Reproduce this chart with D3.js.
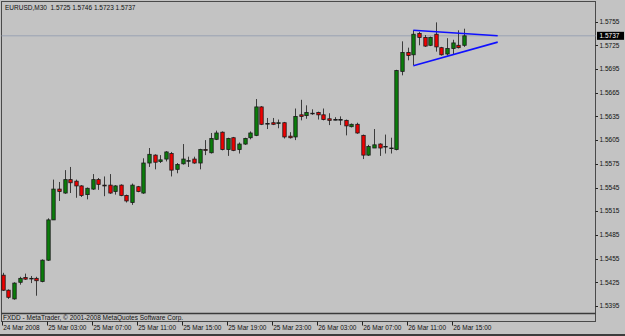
<!DOCTYPE html>
<html>
<head>
<meta charset="utf-8">
<script src="https://cdn.jsdelivr.net/npm/d3@7"></script>
<style>
  body { margin: 0; background: #c3c3c3; }
  svg { display: block; }
  text { font-family: 'Liberation Sans', Arial, sans-serif; white-space: pre; }
</style>
</head>
<body>
<script>
window.document.addEventListener('DOMContentLoaded', init, false);

// EURUSD M30 bars, 24 Mar 2008 23:00 .. 26 Mar 2008 16:00
var open = [
  1.5434, 1.5415, 1.5404, 1.5425, 1.5431, 1.5430, 1.5430, 1.5426, 1.5453, 1.5504,
  1.5543, 1.5538, 1.5555, 1.5553, 1.5547, 1.5536, 1.5543, 1.5555, 1.5548, 1.5548,
  1.5540, 1.5548, 1.5535, 1.5526, 1.5546, 1.5538, 1.5576, 1.5586, 1.5578, 1.5581,
  1.5588, 1.5568, 1.5575, 1.5579, 1.5581, 1.5576, 1.5593, 1.5589, 1.5606, 1.5615,
  1.5593, 1.5608, 1.5593, 1.5600, 1.5608, 1.5611, 1.5647, 1.5626, 1.5627, 1.5626,
  1.5627, 1.5610, 1.5609, 1.5637, 1.5636, 1.5639, 1.5640, 1.5637, 1.5632, 1.5631,
  1.5631, 1.5630, 1.5622, 1.5625, 1.5611, 1.5586, 1.5595, 1.5600, 1.5597, 1.5595,
  1.5593, 1.5692, 1.5716, 1.5713, 1.5740, 1.5735, 1.5725, 1.5739, 1.5722, 1.5714,
  1.5721, 1.5725, 1.5725
];
var close = [
  1.5415, 1.5406, 1.5424, 1.5430, 1.5429, 1.5430, 1.5427, 1.5453, 1.5504, 1.5543,
  1.5540, 1.5555, 1.5551, 1.5547, 1.5535, 1.5544, 1.5555, 1.5549, 1.5547, 1.5538,
  1.5547, 1.5535, 1.5528, 1.5548, 1.5540, 1.5576, 1.5587, 1.5577, 1.5580, 1.5590,
  1.5567, 1.5574, 1.5581, 1.5579, 1.5576, 1.5593, 1.5592, 1.5607, 1.5614, 1.5593,
  1.5607, 1.5592, 1.5600, 1.5607, 1.5614, 1.5647, 1.5625, 1.5626, 1.5625, 1.5627,
  1.5609, 1.5608, 1.5635, 1.5635, 1.5640, 1.5639, 1.5637, 1.5631, 1.5630, 1.5631,
  1.5631, 1.5623, 1.5625, 1.5614, 1.5586, 1.5597, 1.5599, 1.5595, 1.5597, 1.5595,
  1.5693, 1.5716, 1.5712, 1.5739, 1.5735, 1.5724, 1.5735, 1.5723, 1.5713, 1.5721,
  1.5728, 1.5722, 1.5737
];
var high = [
  1.5437, 1.5416, 1.5425, 1.5432, 1.5436, 1.5433, 1.5432, 1.5454, 1.5506, 1.5555,
  1.5552, 1.5567, 1.5571, 1.5555, 1.5548, 1.5545, 1.5562, 1.5557, 1.5559, 1.5562,
  1.5548, 1.5549, 1.5536, 1.5550, 1.5547, 1.5582, 1.5595, 1.5587, 1.5586, 1.5591,
  1.5590, 1.5576, 1.5600, 1.5584, 1.5584, 1.5594, 1.5605, 1.5614, 1.5617, 1.5616,
  1.5608, 1.5609, 1.5602, 1.5608, 1.5616, 1.5657, 1.5648, 1.5633, 1.5633, 1.5631,
  1.5628, 1.5615, 1.5645, 1.5656, 1.5649, 1.5644, 1.5641, 1.5645, 1.5639, 1.5634,
  1.5635, 1.5631, 1.5626, 1.5627, 1.5612, 1.5599, 1.5619, 1.5601, 1.5612, 1.5608,
  1.5694, 1.5730, 1.5722, 1.5744, 1.5742, 1.5738, 1.5736, 1.5754, 1.5723, 1.5734,
  1.5732, 1.5744, 1.5746
];
var low = [
  1.5414, 1.5404, 1.5403, 1.5422, 1.5428, 1.5424, 1.5408, 1.5425, 1.5452, 1.5504,
  1.5528, 1.5537, 1.5538, 1.5532, 1.5533, 1.5530, 1.5542, 1.5542, 1.5534, 1.5537,
  1.5536, 1.5534, 1.5526, 1.5523, 1.5539, 1.5537, 1.5571, 1.5568, 1.5576, 1.5578,
  1.5559, 1.5563, 1.5574, 1.5571, 1.5575, 1.5568, 1.5586, 1.5588, 1.5605, 1.5592,
  1.5585, 1.5591, 1.5588, 1.5599, 1.5606, 1.5610, 1.5624, 1.5619, 1.5624, 1.5620,
  1.5607, 1.5607, 1.5605, 1.5630, 1.5632, 1.5637, 1.5631, 1.5630, 1.5624, 1.5630,
  1.5624, 1.5611, 1.5621, 1.5613, 1.5581, 1.5585, 1.5595, 1.5585, 1.5588, 1.5588,
  1.5592, 1.5687, 1.5706, 1.5700, 1.5725, 1.5723, 1.5724, 1.5717, 1.5712, 1.5712,
  1.5714, 1.5721, 1.5723
];

var priceTicks = [1.5395, 1.5425, 1.5455, 1.5485, 1.5515, 1.5545, 1.5575,
                  1.5605, 1.5635, 1.5665, 1.5695, 1.5725, 1.5755];
var timeTickBars = [0, 8, 16, 24, 32, 40, 48, 56, 64, 72, 80];
var timeTickLabels = ['24 Mar 2008', '25 Mar 03:00', '25 Mar 07:00', '25 Mar 11:00',
                      '25 Mar 15:00', '25 Mar 19:00', '25 Mar 23:00', '26 Mar 03:00',
                      '26 Mar 07:00', '26 Mar 11:00', '26 Mar 15:00'];

// symmetrical triangle drawn on the chart
var triangleTop = [{ bar: 73, price: 1.5744 }, { bar: 88, price: 1.5737 }];
var triangleBottom = [{ bar: 73, price: 1.5699 }, { bar: 88, price: 1.5729 }];

var title = 'EURUSD,M30  1.5725 1.5746 1.5723 1.5737';
var footer = 'FXDD - MetaTrader, \u00A9 2001-2008 MetaQuotes Software Corp.';
var lastPrice = close[close.length - 1];

var width = 625;
var height = 336;
var frame = { left: 1.5, top: 1.5, right: 595.5, bottom: 321.5 };
var fontSize = 6.5;

var x = d3.scaleLinear()
          .domain([0, 82])
          .range([2.7, 2.7 + 82 * 5.625]);

var y = d3.scaleLinear()
          .domain([1.5395, 1.5755])
          .range([306, 21.6]);

var svg;

function init() {
    svg = createCanvas();
    drawFrame();
    drawPriceLine();
    drawCandles();
    drawTriangle();
    drawPriceAxis();
    drawTimeAxis();
    drawTexts();
}

function createCanvas() {
    return d3.select('body')
        .append('svg')
        .attr('width', width)
        .attr('height', height);
}

function drawFrame() {
    svg.append('rect')
        .attr('width', width)
        .attr('height', height)
        .attr('fill', '#c3c3c3');

    svg.append('rect')
        .attr('x', frame.left)
        .attr('y', frame.top)
        .attr('width', frame.right - frame.left)
        .attr('height', frame.bottom - frame.top)
        .attr('fill', 'none')
        .attr('stroke', '#4a4a4a')
        .attr('stroke-width', 1);

    svg.append('line')
        .attr('x1', frame.left).attr('x2', frame.right)
        .attr('y1', 313.5).attr('y2', 313.5)
        .attr('stroke', '#3a3a3a')
        .attr('stroke-width', 1.6);

    // window edge
    svg.append('rect')
        .attr('x', 0).attr('y', 334)
        .attr('width', width).attr('height', 2)
        .attr('fill', '#3c3c3c');
}

function drawPriceLine() {
    svg.append('line')
        .attr('x1', frame.left).attr('x2', frame.right)
        .attr('y1', y(lastPrice)).attr('y2', y(lastPrice))
        .attr('stroke', '#9aa2b4')
        .attr('stroke-width', 1);
}

function drawCandles() {
    var bars = d3.range(open.length);
    var g = svg.append('g');

    g.selectAll('line.wick')
        .data(bars)
        .enter()
            .append('line')
            .attr('class', 'wick')
            .attr('x1', function(i) { return Math.round(x(i)) + 0.5; })
            .attr('x2', function(i) { return Math.round(x(i)) + 0.5; })
            .attr('y1', function(i) { return y(high[i]); })
            .attr('y2', function(i) { return y(low[i]); })
            .attr('stroke', '#3c3c3c')
            .attr('stroke-width', 1);

    g.selectAll('rect.body')
        .data(bars)
        .enter()
            .append('rect')
            .attr('class', 'body')
            .attr('x', function(i) { return Math.round(x(i)) + 0.5 - 1.7; })
            .attr('width', 3.4)
            .attr('y', function(i) { return y(Math.max(open[i], close[i])); })
            .attr('height', function(i) {
                return Math.max(0.6, Math.abs(y(open[i]) - y(close[i])));
            })
            .attr('fill', function(i) {
                if (open[i] === close[i]) return '#222';
                return close[i] > open[i] ? '#0a7d0a' : '#f00000';
            })
            .attr('stroke', '#1a1a1a')
            .attr('stroke-width', 0.8);
}

function drawTriangle() {
    var line = d3.line()
        .x(function(d) { return x(d.bar); })
        .y(function(d) { return y(d.price); });

    [triangleTop, triangleBottom].forEach(function(pts) {
        svg.append('path')
            .attr('d', line(pts))
            .attr('fill', 'none')
            .attr('stroke', '#1010ff')
            .attr('stroke-width', 1.6);
    });
}

function drawPriceAxis() {
    var g = svg.append('g');

    g.selectAll('line')
        .data(priceTicks)
        .enter()
            .append('line')
            .attr('x1', frame.right).attr('x2', frame.right + 2.5)
            .attr('y1', function(d) { return Math.round(y(d)) + 0.5; })
            .attr('y2', function(d) { return Math.round(y(d)) + 0.5; })
            .attr('stroke', '#222');

    g.selectAll('text')
        .data(priceTicks)
        .enter()
            .append('text')
            .attr('x', 599.5)
            .attr('y', function(d) { return y(d); })
            .attr('dy', '0.35em')
            .attr('font-size', fontSize)
            .attr('fill', '#111')
            .text(function(d) { return d.toFixed(4); });

    // current price marker
    g.append('rect')
        .attr('x', 597)
        .attr('y', y(lastPrice) - 4)
        .attr('width', 27)
        .attr('height', 8)
        .attr('fill', '#000');

    g.append('text')
        .attr('x', 599.5)
        .attr('y', y(lastPrice))
        .attr('dy', '0.35em')
        .attr('font-size', fontSize)
        .attr('fill', '#fff')
        .text(lastPrice.toFixed(4));
}

function drawTimeAxis() {
    var g = svg.append('g');

    g.selectAll('line')
        .data(timeTickBars)
        .enter()
            .append('line')
            .attr('x1', function(d) { return Math.round(x(d)) - 0.5; })
            .attr('x2', function(d) { return Math.round(x(d)) - 0.5; })
            .attr('y1', frame.bottom)
            .attr('y2', frame.bottom + 4)
            .attr('stroke', '#222');

    g.selectAll('text')
        .data(timeTickBars)
        .enter()
            .append('text')
            .attr('x', function(d) { return x(d) + 0.5; })
            .attr('y', 329.5)
            .attr('font-size', fontSize)
            .attr('fill', '#111')
            .text(function(d, i) { return timeTickLabels[i]; });
}

function drawTexts() {
    svg.append('text')
        .attr('x', 5)
        .attr('y', 9.5)
        .attr('font-size', fontSize)
        .attr('fill', '#111')
        .text(title);

    svg.append('text')
        .attr('x', 3)
        .attr('y', 320)
        .attr('font-size', fontSize)
        .attr('fill', '#111')
        .text(footer);
}
</script>
</body>
</html>
